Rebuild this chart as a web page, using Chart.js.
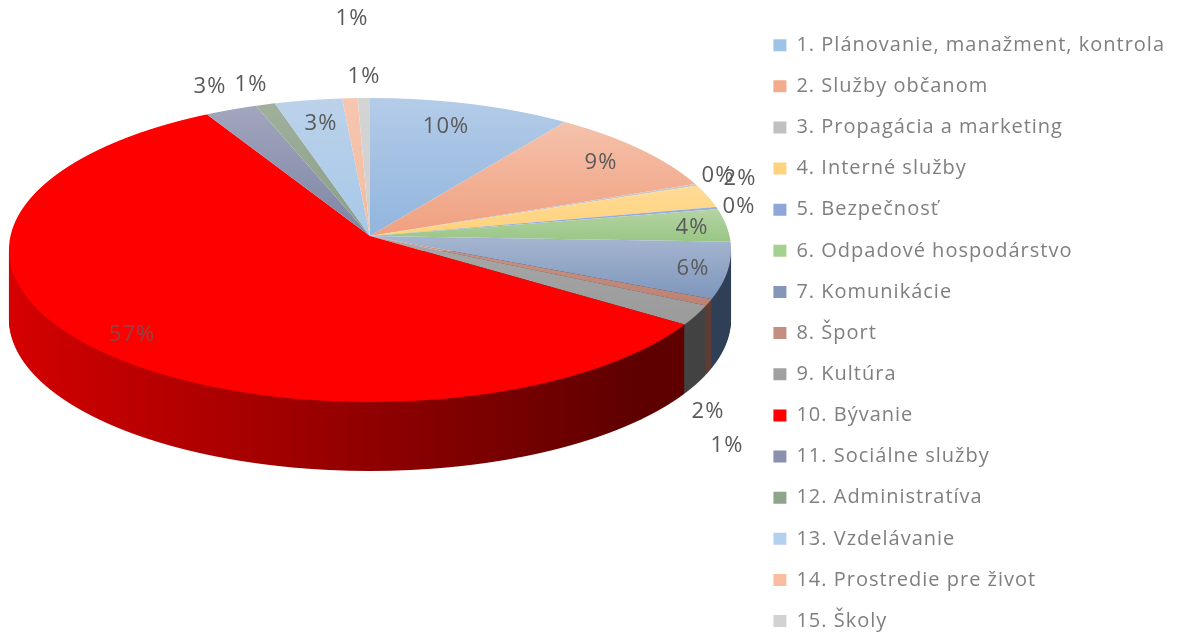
<!DOCTYPE html>
<html><head><meta charset="utf-8">
<style>html,body{margin:0;padding:0;background:#fff}#w{width:1179px;height:633px}</style>
<script src="https://cdn.jsdelivr.net/npm/chart.js@4"></script>
</head><body><div id="w"><canvas id="c"></canvas></div>
<script>
const categories=["1. Plánovanie, manažment, kontrola","2. Služby občanom","3. Propagácia a marketing","4. Interné služby","5. Bezpečnosť","6. Odpadové hospodárstvo","7. Komunikácie","8. Šport","9. Kultúra","10. Bývanie","11. Sociálne služby","12. Administratíva","13. Vzdelávanie","14. Prostredie pre život","15. Školy"];
const shares=[9.9,9.3,0.2,2.45,0.25,3.5,6.0,0.7,2.1,57.45,2.55,0.95,3.3,0.75,0.6];
const legendColors=["#9DC3E6","#F4AA8C","#C0C0C0","#FFD27F","#8FA6D8","#A5D08E","#8497B9","#C48E80","#A0A0A0","#FF0000","#8A90AE","#8FA58A","#B4D0EE","#F9BE9F","#D2D2D2"];
const faceTop=["#B4CCE8","#F5C2AC","#C8C8C8","#FFDB96","#98B0DC","#B6D3A4","#A6B6D0","#C8968A","#A8A8A8","#FF0000","#A2A6BE","#A0B09C","#BCD2EA","#F6C6B0","#D4D4D4"];
const faceBottom=["#92B5DE","#F0A080","#C0C0C0","#FFD27A","#8CA6D8","#98C684","#7E96BC","#BC8274","#9A9A9A","#FF0000","#7E86A4","#8A9E88","#A6C8E8","#F2BCA0","#D0D0D0"];
const sideLeft=["#3C5672","#6E4430","#5A5A5A","#7A6230","#3E4E72","#4C6438","#33465F","#5E3C34","#464646","#D80000","#3E4258","#46503F","#4E6480","#70503E","#606060"];
const sideRight=["#3C5672","#6E4430","#5A5A5A","#7A6230","#3E4E72","#4C6438","#2E3F56","#5E3C34","#424242","#5E0000","#3E4258","#46503F","#4E6480","#70503E","#606060"];
const labelSpots=[[446,127],[601,163],[718,176],[740,179],[739,207],[692,228],[693,269],[727,446],[708,412],[132,335],[210,87],[251,85],[321,124],[364,77],[352,19]];
const FONT='"Open Sans"';
// projection of the pie disc: apex, perspective strength, vertical and horizontal reach
const view={x:370,y:236,a:359.5,b:150.7,k:0.092,depth:69,top:98,bottom:402,widest:250};

const pie3d={id:'pie3d',
 beforeLayout(chart){
  chart.ctx.letterSpacing='1px';
  const lg=chart.legend;
  if(lg&&!lg._tall){lg._tall=true;const u=lg.update;lg.update=function(w,h,m){return u.call(this,w,700,m);};}
 },
 afterLayout(chart){chart.legend.bottom=chart.legend.top+700;},
 beforeDatasetsDraw(chart){
  const ctx=chart.ctx,els=chart.getDatasetMeta(0).data,e0=els[0];
  const r=e0.outerRadius,W=chart.width;
  const vAt=Y=>{const t=(Y-view.y)/view.b;return t/(1+view.k*t);};
  const row=(Y,dy,fn)=>{
    const v0=vAt(Y),v1=vAt(Y+1),w=1-view.k*(v0+v1)/2;
    ctx.save();ctx.beginPath();ctx.rect(0,Y+dy,W,1);ctx.clip();
    ctx.translate(view.x,Y+dy);ctx.scale(view.a/(w*r),1/((v1-v0)*r));ctx.translate(-e0.x,-(e0.y+v0*r));
    fn();ctx.restore();
  };
  const paint=(el,fill)=>{const o=el.options;el.options=Object.assign(Object.create(o),{backgroundColor:fill,borderWidth:0,borderColor:'transparent'});el.draw(ctx);el.options=o;};
  const sideFill=els.map((el,i)=>{const g=ctx.createLinearGradient(e0.x-r,0,e0.x+r,0);g.addColorStop(0,sideLeft[i]);g.addColorStop(0.85,sideRight[i]);g.addColorStop(1,sideRight[i]);return g;});
  const faceFill=els.map((el,i)=>{
    const vs=[0,Math.sin(el.startAngle),Math.sin(el.endAngle)];
    const g=ctx.createLinearGradient(0,e0.y+Math.min(...vs)*r,0,e0.y+Math.max(...vs)*r+1);
    g.addColorStop(0,faceTop[i]);g.addColorStop(1,faceBottom[i]);return g;});
  const walled=els.map((el,i)=>i).filter(i=>{const s=els[i].startAngle,e=els[i].endAngle;return e>0.05&&s<Math.PI;});
  for(let d=view.depth;d>=1;d--){
    for(let Y=view.widest;Y<view.bottom;Y++){row(Y,d,()=>walled.forEach(i=>paint(els[i],sideFill[i])));}
  }
  for(let Y=view.top-1;Y<view.bottom+1;Y++){row(Y,0,()=>els.forEach((el,i)=>paint(el,faceFill[i])));}
  return false;
 },
 afterDraw(chart){
  const ctx=chart.ctx;ctx.save();ctx.font='22px '+FONT;ctx.textAlign='center';ctx.textBaseline='middle';
  shares.forEach((v,i)=>{ctx.fillStyle=i===9?'#8C4545':'#595959';ctx.fillText(Math.round(v)+'%',labelSpots[i][0],labelSpots[i][1]);});
  ctx.restore();
 }};

new Chart(document.getElementById('c'),{type:'pie',plugins:[pie3d],
 data:{labels:categories,datasets:[{data:shares,backgroundColor:legendColors,borderWidth:0}]},
 options:{responsive:true,maintainAspectRatio:false,animation:false,
  layout:{padding:{top:14,right:4,bottom:0,left:0}},
  plugins:{tooltip:{enabled:false},
   legend:{position:'right',align:'start',labels:{font:{family:FONT,size:20},color:'#7F7F7F',boxWidth:13,boxHeight:12,padding:21.14}}}}});
</script></body></html>
